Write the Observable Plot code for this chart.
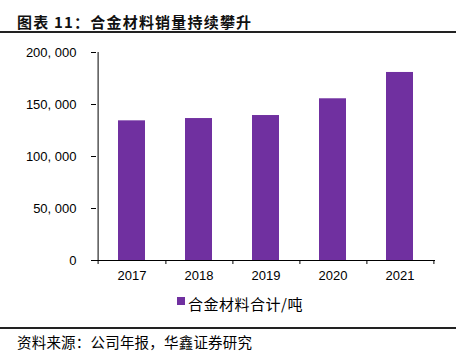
<!DOCTYPE html>
<html><head><meta charset="utf-8">
<script src="https://cdn.jsdelivr.net/npm/d3@7"></script>
<script src="https://cdn.jsdelivr.net/npm/@observablehq/plot@0.6"></script>
<style>
body{margin:0;background:#fff;}
#wrap{position:relative;width:462px;height:357px;overflow:hidden;font-family:"Noto Sans CJK SC",sans-serif;color:#000;}
#chart{position:absolute;left:0;top:0;}
#title{position:absolute;left:17px;top:14px;font-size:15px;line-height:15px;font-weight:bold;white-space:nowrap;letter-spacing:1.2px;color:#111;}
.hr{position:absolute;left:0;width:456px;height:1.5px;background:#222;}
#legend{position:absolute;left:177px;top:296px;font-size:15px;line-height:15px;white-space:nowrap;letter-spacing:0.5px;}
#legend .sw{position:absolute;left:0;top:1px;width:8px;height:8px;}
#legend .lt{position:absolute;left:11px;top:0;}
#source{position:absolute;left:17px;top:334px;font-size:14.5px;line-height:15px;white-space:nowrap;letter-spacing:0.2px;}
</style></head><body>
<div id="wrap">
  <div id="title"></div>
  <div class="hr" style="top:31px"></div>
  <div id="chart"></div>
  <div id="legend"><span class="sw"></span><span class="lt"></span></div>
  <div class="hr" style="top:327px"></div>
  <div id="source"></div>
</div>
<script>
const titleText = "图表 11：合金材料销量持续攀升";
const sourceText = "资料来源：公司年报，华鑫证券研究";
const seriesName = "合金材料合计/吨";
const seriesColor = "#7030A0";
const years = ["2017", "2018", "2019", "2020", "2021"];
const sales = [134300, 136500, 139400, 155500, 180800];
const yTicks = [0, 50000, 100000, 150000, 200000];

document.getElementById("title").textContent = titleText;
document.getElementById("source").textContent = sourceText;
document.querySelector("#legend .lt").textContent = seriesName;
document.querySelector("#legend .sw").style.background = seriesColor;

const W = 462, H = 290, mL = 96, mR = 27;
const step = (W - mL - mR) / years.length;
const data = years.map((y, i) => ({year: y, value: sales[i]}));

const chart = Plot.plot({
  width: W, height: H,
  marginTop: 52, marginBottom: 30, marginLeft: mL, marginRight: mR,
  style: {fontFamily: '"Liberation Sans", Arial, sans-serif', fontSize: "13px", color: "#000", background: "transparent"},
  x: {domain: years, paddingInner: 0.6, paddingOuter: 0.3},
  y: {domain: [0, 200000]},
  marks: [
    Plot.barY(data, {x: "year", y: "value", fill: seriesColor}),
    Plot.ruleY([0], {stroke: "#000"}),
    Plot.ruleX([years[0]], {y1: yTicks[yTicks.length - 1], y2: 0, dx: -step / 2, insetBottom: -4, stroke: "#000"}),
    Plot.ruleX(years, {y1: 0, y2: 0, dx: step / 2, insetBottom: -4, stroke: "#000"}),
    Plot.axisY({ticks: yTicks, tickSize: 5, tickPadding: 15, label: null,
      tickFormat: d => d3.format(",")(d).replace(",", ", ")}),
    Plot.axisX({tickSize: 0, tickPadding: 10, label: null})
  ]
});
document.getElementById("chart").appendChild(chart);
</script>
</body></html>
